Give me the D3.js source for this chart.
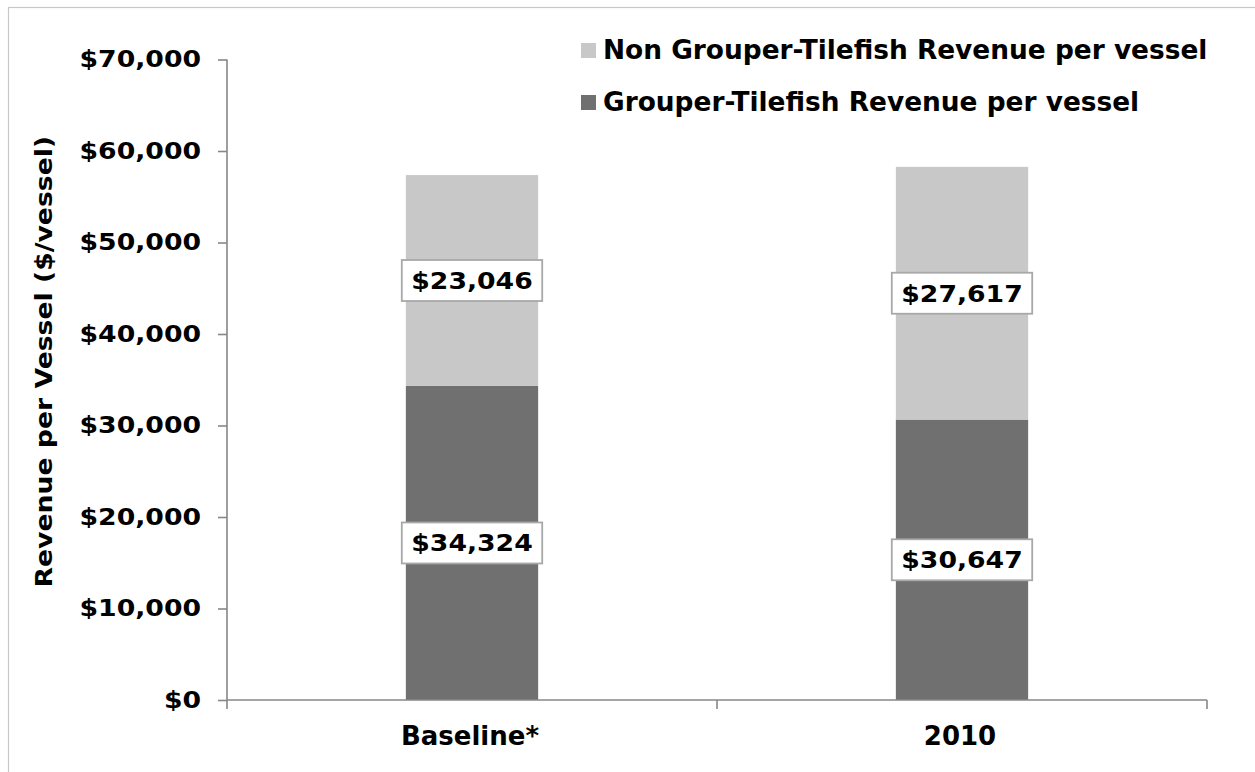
<!DOCTYPE html>
<html>
<head>
<meta charset="utf-8">
<script src="https://cdn.jsdelivr.net/npm/d3@7"></script>
<style>
  html, body { margin: 0; padding: 0; background: #fff; }
  svg { display: block; }
  text { font-family: "DejaVu Sans", Verdana, sans-serif; font-weight: bold; fill: #000; }
</style>
</head>
<body>
<svg id="chart" width="1255" height="772"></svg>
<script>
// Revenue per vessel, stacked by source
const categories = ["Baseline*", "2010"];
const grouperTilefish = [34324, 30647];
const nonGrouperTilefish = [23046, 27617];
const seriesNames = ["Grouper-Tilefish Revenue per vessel", "Non Grouper-Tilefish Revenue per vessel"];
const yTicks = [0, 10000, 20000, 30000, 40000, 50000, 60000, 70000];
const yTitle = "Revenue per Vessel ($/vessel)";

const colors = { dark: "#707070", light: "#c8c8c8", axis: "#878787", frame: "#c8c8c8", box: "#a8a8a8" };
const stretch = 1.16; // horizontal widening of the numeric labels

const svg = d3.select("#chart");
const plot = { left: 227, right: 1207, top: 59.5, bottom: 700 };

// outer frame
svg.append("rect")
  .attr("x", 8.5).attr("y", 7.5)
  .attr("width", 1300).attr("height", 800)
  .attr("fill", "none").attr("stroke", colors.frame).attr("stroke-width", 1.2);

const x = d3.scaleBand().domain(categories).range([plot.left, plot.right]).padding(0);
const y = d3.scaleLinear().domain([0, 70000]).range([plot.bottom, plot.top]);
const barW = x.bandwidth() * 0.27;

const stackData = categories.map((c, i) => ({ cat: c, g: grouperTilefish[i], n: nonGrouperTilefish[i] }));
const stacked = d3.stack().keys(["g", "n"])(stackData);
const fills = { g: colors.dark, n: colors.light };

// bars
const layers = svg.append("g").selectAll("g").data(stacked).join("g")
  .attr("fill", d => fills[d.key]);
layers.selectAll("rect").data(d => d).join("rect")
  .attr("x", d => x(d.data.cat) + (x.bandwidth() - barW) / 2)
  .attr("width", barW)
  .attr("y", d => y(d[1]))
  .attr("height", d => y(d[0]) - y(d[1]));

// y axis
const fmt = v => "$" + d3.format(",")(v);
const yAxis = svg.append("g").attr("transform", `translate(${plot.left},0)`)
  .call(d3.axisLeft(y).tickValues(yTicks).tickFormat(fmt).tickSize(9).tickPadding(17));
yAxis.select(".domain").attr("stroke", colors.axis).attr("stroke-width", 1.6)
  .attr("d", `M0,${plot.top}V${plot.bottom}`);
yAxis.selectAll(".tick line").attr("stroke", colors.axis).attr("stroke-width", 1.6);
yAxis.selectAll(".tick text")
  .style("font-size", "23px").style("font-family", null)
  .attr("x", -26 / stretch)
  .attr("transform", `scale(${stretch},1)`);

// x axis with ticks between categories
const xAxis = svg.append("g").attr("transform", `translate(0,${plot.bottom})`);
xAxis.append("line")
  .attr("x1", plot.left).attr("x2", plot.right)
  .attr("stroke", colors.axis).attr("stroke-width", 1.6);
const boundaries = [...categories.map(c => x(c)), plot.right];
xAxis.selectAll(".xtick").data(boundaries).join("line")
  .attr("class", "xtick")
  .attr("x1", d => d).attr("x2", d => d)
  .attr("y1", 0).attr("y2", 9)
  .attr("stroke", colors.axis).attr("stroke-width", 1.6);
xAxis.selectAll(".xlabel").data(categories).join("text")
  .attr("class", "xlabel")
  .attr("x", d => x(d) + x.bandwidth() / 2 - 2)
  .attr("y", 45)
  .attr("text-anchor", "middle")
  .style("font-size", "26px")
  .text(d => d);

// y axis title
svg.append("text")
  .attr("transform", `translate(52,${(plot.top + plot.bottom) / 2 - 18}) rotate(-90) scale(${stretch},1)`)
  .attr("text-anchor", "middle")
  .style("font-size", "23px")
  .text(yTitle);

// value labels in boxes at the middle of each segment
const labels = svg.append("g");
stacked.forEach(layer => {
  layer.forEach(d => {
    const cx = x(d.data.cat) + x.bandwidth() / 2;
    const cy = y((d[0] + d[1]) / 2);
    const g = labels.append("g").attr("transform", `translate(${cx},${cy})`);
    const rect = g.append("rect");
    const t = g.append("text")
      .attr("text-anchor", "middle")
      .attr("dy", "0.36em")
      .attr("transform", `scale(${stretch},1)`)
      .style("font-size", "23px")
      .text(fmt(d[1] - d[0]));
    const w = t.node().getComputedTextLength() * stretch + 19;
    const h = 41;
    rect.attr("x", -w / 2).attr("y", -h / 2).attr("width", w).attr("height", h)
      .attr("fill", "#fff").attr("stroke", colors.box).attr("stroke-width", 1.8);
  });
});

// legend, top series listed first
const legendItems = [
  { name: seriesNames[1], color: colors.light },
  { name: seriesNames[0], color: colors.dark }
];
const legend = svg.append("g").attr("transform", "translate(581,43)");
const li = legend.selectAll("g").data(legendItems).join("g")
  .attr("transform", (d, i) => `translate(0,${i * 52})`);
li.append("rect").attr("width", 15).attr("height", 15).attr("fill", d => d.color);
li.append("text").attr("x", 22).attr("y", 16)
  .style("font-size", "26.4px")
  .text(d => d.name);
</script>
</body>
</html>
